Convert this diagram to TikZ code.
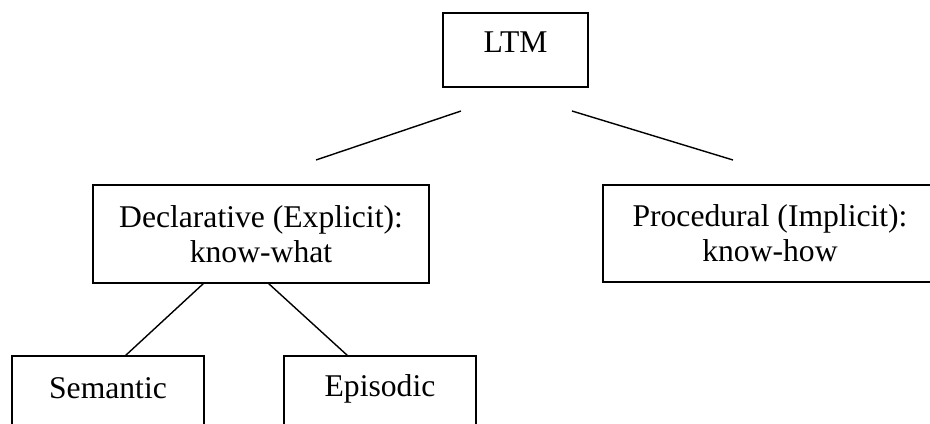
\documentclass[tikz,border=0pt]{standalone}
\usepackage{fontspec}
\setmainfont{Liberation Serif}
\usetikzlibrary{calc}

\tikzset{
  box/.style={draw, line width=1pt, inner sep=0pt, outer sep=0pt, align=center, anchor=north,
    font=\fontsize{18}{20}\selectfont},
  link/.style={line width=0.8pt}
}

\begin{document}
\begin{tikzpicture}

\useasboundingbox (0,0) rectangle (18.6,-8.46);
\clip (0,0) rectangle (18.6,-8.46);

\node[box, minimum width=2.9cm, minimum height=1.48cm, text height=0.42cm, text depth=0.3cm] (ltm) at (10.31, -0.26) {LTM};
\node[box, minimum width=6.72cm, minimum height=1.96cm] (decl) at (5.22, -3.70) {Declarative (Explicit):\\know-what};
\node[box, minimum width=6.68cm, minimum height=1.94cm] (proc) at (15.40, -3.70) {Procedural (Implicit):\\know-how};
\node[box, minimum width=3.84cm, minimum height=1.6cm, text height=0.4cm, text depth=0.32cm] (sem) at (2.16, -7.12) {Semantic};
\node[box, minimum width=3.84cm, minimum height=1.6cm, text height=0.36cm, text depth=0.36cm] (epi) at (7.60, -7.12) {Episodic};

\coordinate (l1) at (6.32, -3.2);
\coordinate (l2) at (9.22, -2.22);
\coordinate (r1) at (11.44, -2.22);
\coordinate (r2) at (14.66, -3.2);

\draw[link] (l1) -- (l2);
\draw[link] (r1) -- (r2);

\draw[link] ($(decl.south)+(-1.14,0)$) -- ($(sem.north)+(0.34,0)$);
\draw[link] ($(decl.south)+(0.14,0)$) -- ($(epi.north)+(-0.64,0)$);

\end{tikzpicture}
\end{document}
